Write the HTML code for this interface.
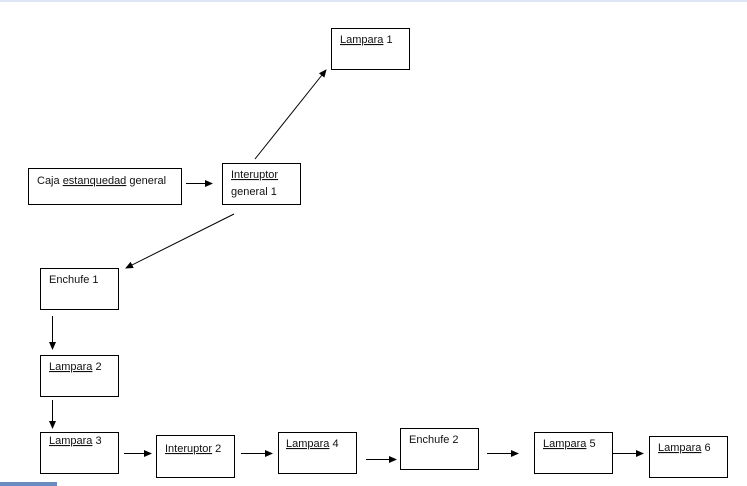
<!DOCTYPE html>
<html><head><meta charset="utf-8"><style>
html,body{margin:0;padding:0;background:#fff;}
svg{display:block;}
text{font-family:"Liberation Sans",sans-serif;font-size:11px;fill:#111;}
.u{text-decoration:underline;}
</style></head><body>
<svg width="747" height="486" viewBox="0 0 747 486" xmlns="http://www.w3.org/2000/svg">
<defs><marker id="a" markerWidth="8" markerHeight="8" refX="7" refY="4" orient="auto" markerUnits="userSpaceOnUse"><path d="M0,0.5 L8,4 L0,7.5 z" fill="#000"/></marker></defs>
<rect x="0" y="0" width="747" height="2" fill="#dfe6f5"/>
<g fill="none" stroke="#000" stroke-width="1">
<rect x="331.5" y="28.5" width="78" height="41"/>
<rect x="28.5" y="168.5" width="153" height="36"/>
<rect x="222.5" y="163.5" width="78" height="41"/>
<rect x="40.5" y="268.5" width="78" height="41"/>
<rect x="40.5" y="355.5" width="78" height="41"/>
<rect x="40.5" y="432.5" width="78" height="41"/>
<rect x="156.5" y="435.5" width="78" height="42"/>
<rect x="278.5" y="432.5" width="78" height="41"/>
<rect x="400.5" y="428.5" width="78" height="41"/>
<rect x="534.5" y="432.5" width="78" height="41"/>
<rect x="649.5" y="436.5" width="78" height="41"/>
</g>
<g stroke="#000" stroke-width="1" marker-end="url(#a)">
<line x1="186" y1="183.5" x2="212" y2="183.5"/>
<line x1="255" y1="159" x2="326" y2="70"/>
<line x1="234" y1="214" x2="126" y2="268"/>
<line x1="52.5" y1="316" x2="52.5" y2="349"/>
<line x1="52.5" y1="400" x2="52.5" y2="428"/>
<line x1="124" y1="453.5" x2="151" y2="453.5"/>
<line x1="241" y1="453.5" x2="272" y2="453.5"/>
<line x1="366" y1="459.5" x2="396" y2="459.5"/>
<line x1="487" y1="453.5" x2="518" y2="453.5"/>
<line x1="612" y1="453.5" x2="643" y2="453.5"/>
</g>
<text x="340" y="43"><tspan class="u">Lampara</tspan> 1</text>
<text x="37" y="184">Caja <tspan class="u">estanquedad</tspan> general</text>
<text x="231" y="178" class="u">Interuptor</text>
<text x="231" y="195">general  1</text>
<text x="49" y="283">Enchufe 1</text>
<text x="49" y="370"><tspan class="u">Lampara</tspan> 2</text>
<text x="49" y="444"><tspan class="u">Lampara</tspan> 3</text>
<text x="165" y="452"><tspan class="u">Interuptor</tspan> 2</text>
<text x="286" y="447"><tspan class="u">Lampara</tspan> 4</text>
<text x="409" y="443">Enchufe 2</text>
<text x="543" y="447"><tspan class="u">Lampara</tspan> 5</text>
<text x="658" y="451"><tspan class="u">Lampara</tspan> 6</text>
<rect x="0" y="482" width="57" height="4" fill="#6b8cbf"/>
</svg>
</body></html>
